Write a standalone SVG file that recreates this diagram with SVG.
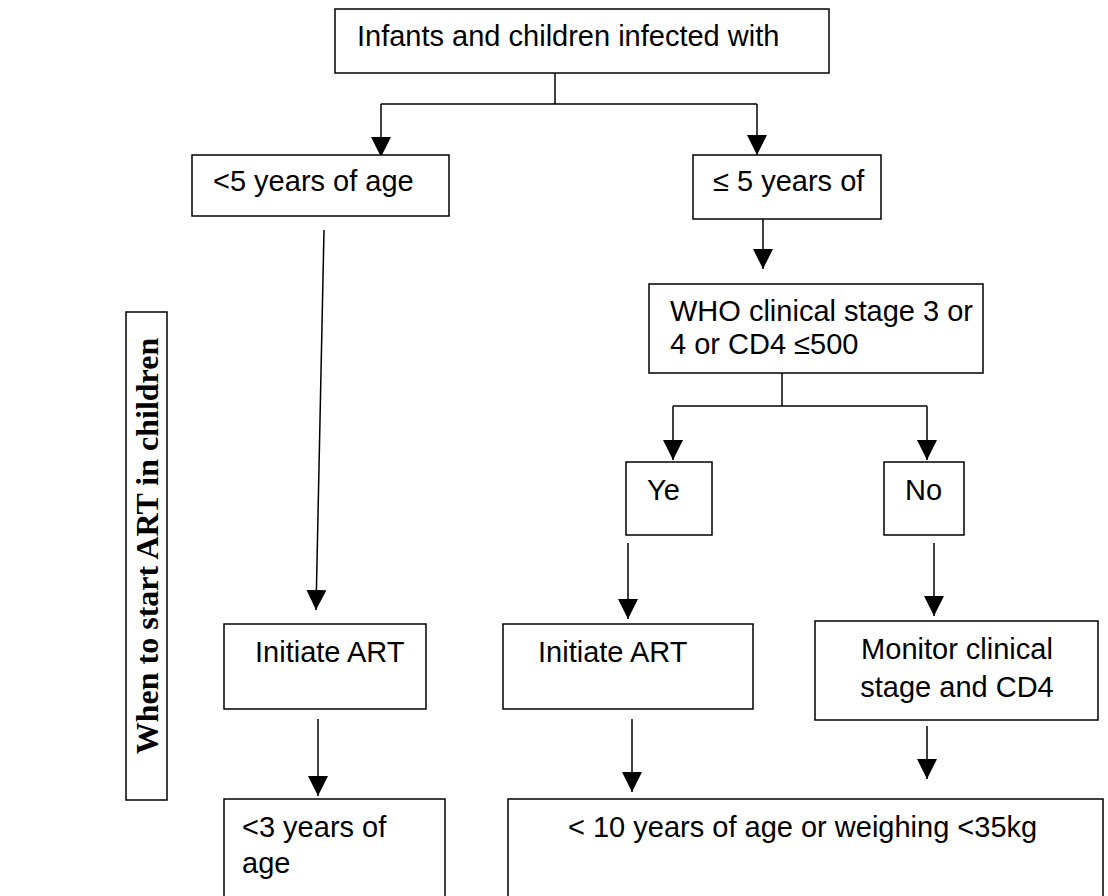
<svg xmlns="http://www.w3.org/2000/svg" width="1108" height="896" viewBox="0 0 1108 896">
<defs>
<marker id="arr" viewBox="0 0 20 20" refX="20" refY="10" markerWidth="20" markerHeight="20" markerUnits="userSpaceOnUse" orient="auto">
<path d="M0,0 L20,10 L0,20 z" fill="#000"/>
</marker>
</defs>
<style>
.box{fill:#fff;stroke:#000;stroke-width:1.5}
.t{font-family:"Liberation Sans",Arial,sans-serif;font-size:29px;fill:#000}
.side{font-family:"Liberation Serif","Times New Roman",serif;font-size:32px;font-weight:bold;fill:#000}
.ln{fill:none;stroke:#000;stroke-width:1.5}
.ar{fill:none;stroke:#000;stroke-width:1.5;marker-end:url(#arr)}
</style>
<rect width="1108" height="896" fill="#fff"/>
<g id="connectors">
<line class="ln" x1="555" y1="73" x2="555" y2="104"/>
<line class="ln" x1="381" y1="104" x2="757" y2="104"/>
<line class="ar" x1="381" y1="104" x2="381" y2="157"/>
<line class="ar" x1="757" y1="104" x2="757" y2="155"/>
<line class="ar" x1="324" y1="230" x2="316" y2="610"/>
<line class="ar" x1="763" y1="218" x2="763" y2="269"/>
<line class="ln" x1="782" y1="373" x2="782" y2="406"/>
<line class="ln" x1="673" y1="406" x2="927" y2="406"/>
<line class="ar" x1="673" y1="406" x2="673" y2="460"/>
<line class="ar" x1="927" y1="406" x2="927" y2="460"/>
<line class="ar" x1="628" y1="543" x2="628" y2="619"/>
<line class="ar" x1="934" y1="543" x2="934" y2="616"/>
<line class="ar" x1="318" y1="719" x2="318" y2="796"/>
<line class="ar" x1="632" y1="719" x2="632" y2="792"/>
<line class="ar" x1="927" y1="726" x2="927" y2="779"/>
</g>
<g id="n-top">
<rect class="box" x="335" y="9" width="494" height="64"/>
<text class="t" x="357" y="46">Infants and children infected with</text>
</g>
<g id="n-lt5">
<rect class="box" x="192" y="155" width="257" height="61"/>
<text class="t" x="213" y="191">&lt;5 years of age</text>
</g>
<g id="n-le5">
<rect class="box" x="693" y="155" width="188" height="64"/>
<text class="t" x="713" y="191">≤ 5 years of</text>
</g>
<g id="n-who">
<rect class="box" x="649" y="284" width="334" height="89"/>
<text class="t" x="670" y="321">WHO clinical stage 3 or</text>
<text class="t" x="670" y="354">4 or CD4 ≤500</text>
</g>
<g id="n-yes">
<rect class="box" x="626" y="462" width="86" height="73"/>
<text class="t" x="647" y="500">Ye</text>
</g>
<g id="n-no">
<rect class="box" x="884" y="462" width="80" height="73"/>
<text class="t" x="905" y="500">No</text>
</g>
<g id="n-init1">
<rect class="box" x="224" y="624" width="202" height="85"/>
<text class="t" x="255" y="662">Initiate ART</text>
</g>
<g id="n-init2">
<rect class="box" x="503" y="624" width="250" height="85"/>
<text class="t" x="538" y="662">Initiate ART</text>
</g>
<g id="n-monitor">
<rect class="box" x="815" y="621" width="283" height="99"/>
<text class="t" x="957" y="659" text-anchor="middle">Monitor clinical</text>
<text class="t" x="957" y="697" text-anchor="middle">stage and CD4</text>
</g>
<g id="n-lt3">
<rect class="box" x="224" y="799" width="221" height="110"/>
<text class="t" x="242" y="837">&lt;3 years of</text>
<text class="t" x="242" y="873">age</text>
</g>
<g id="n-lt10">
<rect class="box" x="508" y="799" width="595" height="110"/>
<text class="t" x="568" y="837">&lt; 10 years of age or weighing &lt;35kg</text>
</g>
<g id="n-side">
<rect class="box" x="126" y="312" width="41" height="488"/>
<text class="side" transform="translate(158,546) rotate(-90)" text-anchor="middle">When to start ART in children</text>
</g>
</svg>
